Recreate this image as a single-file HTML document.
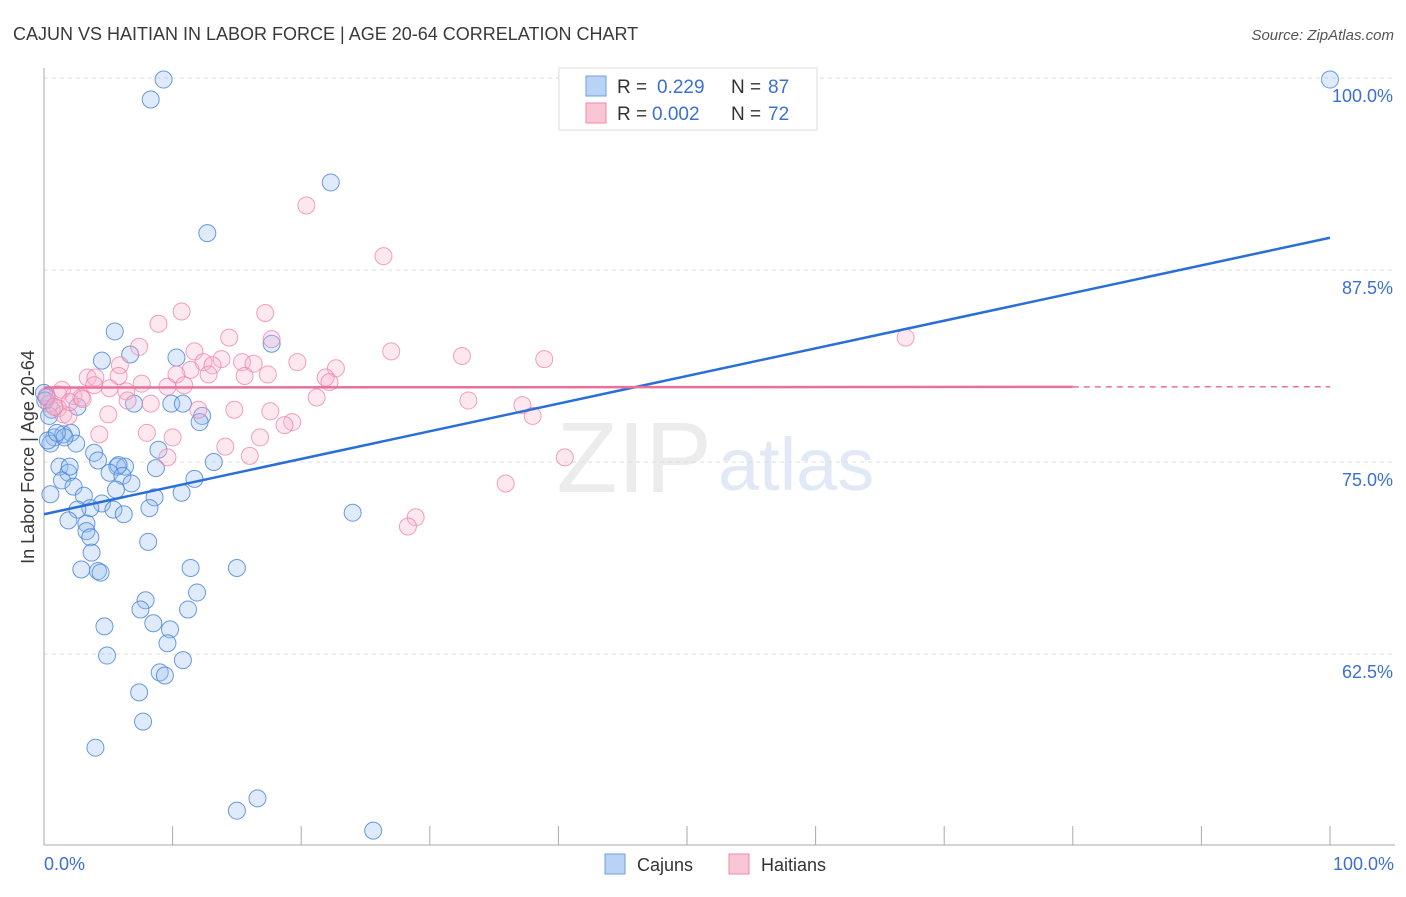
<!DOCTYPE html>
<html><head><meta charset="utf-8"><style>
body{margin:0;background:#fff;font-family:"Liberation Sans",sans-serif;}
svg text{font-family:"Liberation Sans",sans-serif;}
</style></head><body>
<svg id="chart" width="1406" height="892">
<text x="13" y="40" font-size="18" fill="#3a3a3a">CAJUN VS HAITIAN IN LABOR FORCE | AGE 20-64 CORRELATION CHART</text>
<text x="1394" y="40" font-size="15" fill="#555" font-style="italic" text-anchor="end">Source: ZipAtlas.com</text>
<text x="712" y="492" font-size="100" fill="#ececec" font-family="Liberation Serif" text-anchor="end">ZIP</text>
<text x="718" y="490" font-size="74" fill="#e1e9f6">atlas</text>
<g id="grid"></g>
<g id="axes"></g>
<g id="pts"></g>
<g id="lines"></g>
<text transform="translate(34,457) rotate(-90)" font-size="18" fill="#3a3a3a" text-anchor="middle">In Labor Force | Age 20-64</text>
<text x="44" y="870" font-size="18" fill="#3b6fd4">0.0%</text>
<text x="1394" y="870" font-size="18" fill="#3b6fd4" text-anchor="end">100.0%</text>
<g>
<rect x="559" y="68" width="258" height="62" fill="#fff" stroke="#ddd"/>
<rect x="586" y="76" width="20" height="20" fill="#b9d3f5" stroke="#6d9de0"/>
<text x="617" y="93" font-size="19" fill="#333">R =</text>
<text x="657" y="93" font-size="19" fill="#3b6fd4">0.229</text>
<text x="731" y="93" font-size="19" fill="#333">N =</text>
<text x="768" y="93" font-size="19" fill="#3b6fd4">87</text>
<rect x="586" y="103" width="20" height="20" fill="#f9c6d6" stroke="#ee88a8"/>
<text x="617" y="120" font-size="19" fill="#333">R =</text>
<text x="652" y="120" font-size="19" fill="#3b6fd4">0.002</text>
<text x="731" y="120" font-size="19" fill="#333">N =</text>
<text x="768" y="120" font-size="19" fill="#3b6fd4">72</text>
</g>
<g>
<rect x="605" y="854" width="20" height="20" fill="#b9d3f5" stroke="#6d9de0"/>
<text x="637" y="871" font-size="18" fill="#333">Cajuns</text>
<rect x="729" y="854" width="20" height="20" fill="#f9c6d6" stroke="#ee88a8"/>
<text x="761" y="871" font-size="18" fill="#333">Haitians</text>
</g>
</svg>
<script>
const yTicks=[100,87.5,75,62.5];
const yTickLabels=["100.0%","87.5%","75.0%","62.5%"];
const xTicks=[0,10,20,30,40,50,60,70,80,90,100];
const cajunX=[9.3,8.3,22.3,12.7,5.5,17.7,6.7,4.5,10.3,0,2.6,7.0,9.9,10.8,12.3,12.1,0.8,1.5,2.1,0.5,2.5,1.6,3.9,4.2,8.9,13.2,1.2,1.9,2.0,5.7,6.3,5.8,8.7,5.1,6.1,1.4,2.3,6.8,5.6,0.5,3.1,8.6,10.7,11.7,4.5,3.6,2.6,5.4,8.2,6.2,1.9,3.3,3.3,3.6,24.0,8.1,3.7,2.9,4.2,4.4,11.4,15.0,11.9,7.9,7.5,11.2,4.7,8.5,9.8,9.6,4.9,10.8,9.0,9.4,7.4,7.7,4.0,16.6,15.0,25.6,100,0.2,0.6,0.1,0.3,1.0,0.4];
const cajunY=[99.9,98.6,93.2,89.9,83.5,82.7,82.0,81.6,81.8,79.5,78.6,78.8,78.8,78.8,78.0,77.6,76.6,76.8,76.9,76.2,76.2,76.6,75.6,75.1,75.8,75.0,74.7,74.3,74.7,74.7,74.7,74.8,74.6,74.3,74.1,73.8,73.4,73.6,73.2,72.9,72.8,72.7,73.0,73.9,72.3,72.0,71.9,71.9,72.0,71.6,71.2,71.0,70.5,70.1,71.7,69.8,69.1,68.0,67.9,67.8,68.1,68.1,66.5,66.0,65.4,65.4,64.3,64.5,64.1,63.2,62.4,62.1,61.3,61.1,60.0,58.1,56.4,53.1,52.3,51.0,99.9,79.2,78.4,79.0,76.4,76.9,78.0];
const haitianX=[20.4,26.4,10.7,8.9,17.2,14.4,17.7,67.0,7.4,11.7,27.0,32.5,38.9,13.8,12.4,13.1,15.4,16.3,19.7,22.7,5.9,11.4,10.3,12.8,3.4,4.0,5.8,17.4,15.6,21.9,22.2,10.9,7.6,9.6,5.1,6.4,3.9,1.1,2.3,2.9,6.5,8.3,21.2,33.0,37.2,0.4,1.1,1.5,1.9,14.8,12.0,17.6,5.0,38.0,19.3,18.7,4.3,8.0,10.0,16.8,14.1,9.6,16.0,40.5,35.9,28.9,28.3,1.4,2.0,0.2,0.8,3.0];
const haitianY=[91.7,88.4,84.8,84.0,84.7,83.1,83.0,83.1,82.5,82.2,82.2,81.9,81.7,81.7,81.5,81.3,81.5,81.4,81.5,81.1,81.3,81.0,80.7,80.7,80.5,80.5,80.6,80.7,80.6,80.5,80.2,80.0,80.1,79.9,79.8,79.6,80.0,79.4,79.3,79.2,79.0,78.8,79.2,79.0,78.7,78.8,78.5,78.1,78.0,78.4,78.4,78.3,78.1,78.0,77.6,77.4,76.8,76.9,76.6,76.6,76.0,75.3,75.4,75.3,73.6,71.4,70.8,79.7,78.9,79.3,78.6,79.1];
const cajunTrend=[71.6,89.6];
const haitianTrend=[79.85,79.9];
const NS="http://www.w3.org/2000/svg";
const X=v=>44+v*12.86, Y=v=>78+(100-v)*15.36;
function mk(tag,attrs,parent){const e=document.createElementNS(NS,tag);for(const k in attrs)e.setAttribute(k,attrs[k]);parent.appendChild(e);return e;}
const grid=document.getElementById('grid'),axes=document.getElementById('axes'),pts=document.getElementById('pts'),lines=document.getElementById('lines');
yTicks.forEach((t,i)=>{
 const l=mk('line',{x1:44,x2:1395,y1:Y(t),y2:Y(t),stroke:'#ddd','stroke-dasharray':'4,4'},grid);
 
 
 const tx=mk('text',{x:1393,y:Y(t)+24,'font-size':18,fill:'#3b6fd4','text-anchor':'end'},grid);
 tx.textContent=yTickLabels[i];
 
 
});
const ya=mk('line',{x1:44,x2:44,y1:68,y2:845,stroke:'#aaa'},axes);


const xa=mk('line',{x1:44,x2:1395,y1:845,y2:845,stroke:'#aaa'},axes);


xTicks.forEach(t=>{
 const l=mk('line',{x1:X(t),x2:X(t),y1:826,y2:845,stroke:'#aaa'},axes);
 
 
});
cajunX.forEach((v,i)=>{
 const c=mk('circle',{cx:X(v),cy:Y(cajunY[i]),r:8.5,fill:'rgba(150,188,238,0.3)',stroke:'rgba(70,130,215,0.8)','stroke-width':1},pts);
 
 
});
haitianX.forEach((v,i)=>{
 const c=mk('circle',{cx:X(v),cy:Y(haitianY[i]),r:8.5,fill:'rgba(248,180,205,0.3)',stroke:'rgba(236,130,168,0.75)','stroke-width':1},pts);
 
 
});
const bt=mk('line',{x1:X(0),y1:Y(cajunTrend[0]),x2:X(100),y2:Y(cajunTrend[1]),stroke:'#2a6fd6','stroke-width':2.5},lines);


const hm=v=>haitianTrend[0]+(haitianTrend[1]-haitianTrend[0])*v/100;
const pt=mk('line',{x1:X(0),y1:Y(hm(0)),x2:X(80),y2:Y(hm(80)),stroke:'#e8709a','stroke-width':2.5},lines);


const pd=mk('line',{x1:X(80),y1:Y(hm(80)),x2:X(100),y2:Y(hm(100)),stroke:'#e8709a','stroke-width':1.5,'stroke-dasharray':'6,5'},lines);


</script>
</body></html>
